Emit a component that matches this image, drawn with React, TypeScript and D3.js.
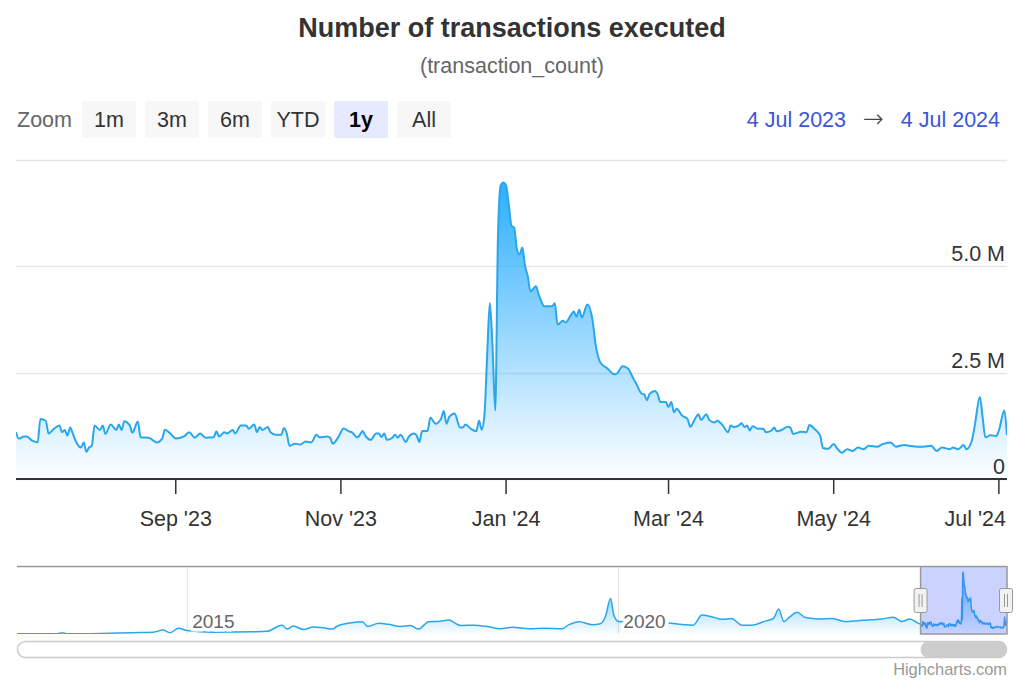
import React from "react";
import * as d3 from "d3";

const chartTitle = "Number of transactions executed";
const chartSubtitle = "(transaction_count)";
const zoomLabel = "Zoom";
const zoomButtons = ["1m", "3m", "6m", "YTD", "1y", "All"];
const selectedButton = "1y";
const rangeFrom = "4 Jul 2023";
const rangeTo = "4 Jul 2024";
const rangeStart = "2023-07-04";
const rangeEnd = "2024-07-04";
const yTickValues = [0, 2.5, 5, 7.5];
const yTickLabels = ["0", "2.5 M", "5.0 M", ""];
const xTickDates = ["2023-09-01", "2023-11-01", "2024-01-01", "2024-03-01", "2024-05-01", "2024-07-01"];
const navTickDates = ["2015-01-01", "2020-01-01"];
const creditText = "Highcharts.com";

// daily transaction count, millions (selected year)
const txData: [string, number][] = [
  ["2023-07-04", 1.10], ["2023-07-05", 0.95], ["2023-07-07", 1.00], ["2023-07-08", 1.00], ["2023-07-10", 0.90],
  ["2023-07-12", 0.86], ["2023-07-13", 1.41], ["2023-07-15", 1.37], ["2023-07-16", 1.07], ["2023-07-18", 1.18],
  ["2023-07-20", 1.26], ["2023-07-21", 1.10], ["2023-07-22", 1.15], ["2023-07-23", 1.02], ["2023-07-24", 1.21],
  ["2023-07-25", 1.06], ["2023-07-26", 0.90], ["2023-07-28", 0.74], ["2023-07-29", 0.86], ["2023-07-30", 0.64],
  ["2023-07-31", 0.74], ["2023-08-01", 0.78], ["2023-08-02", 1.26], ["2023-08-04", 1.15], ["2023-08-05", 1.26],
  ["2023-08-06", 1.06], ["2023-08-08", 1.28], ["2023-08-09", 1.22], ["2023-08-10", 1.15], ["2023-08-11", 1.28],
  ["2023-08-12", 1.15], ["2023-08-13", 1.36], ["2023-08-15", 1.26], ["2023-08-16", 1.09], ["2023-08-18", 1.35],
  ["2023-08-19", 0.98], ["2023-08-22", 0.97], ["2023-08-25", 0.86], ["2023-08-27", 0.95], ["2023-08-28", 1.16],
  ["2023-08-30", 1.07], ["2023-09-01", 0.95], ["2023-09-04", 1.00], ["2023-09-06", 1.10], ["2023-09-08", 0.97],
  ["2023-09-10", 1.07], ["2023-09-12", 0.97], ["2023-09-15", 0.98], ["2023-09-16", 1.12], ["2023-09-17", 1.00],
  ["2023-09-19", 1.10], ["2023-09-20", 1.07], ["2023-09-22", 1.15], ["2023-09-23", 1.07], ["2023-09-25", 1.26],
  ["2023-09-27", 1.26], ["2023-09-28", 1.18], ["2023-09-30", 1.28], ["2023-10-01", 1.10], ["2023-10-02", 1.22],
  ["2023-10-03", 1.15], ["2023-10-05", 1.22], ["2023-10-06", 1.10], ["2023-10-08", 1.04], ["2023-10-10", 1.04],
  ["2023-10-11", 1.20], ["2023-10-12", 1.07], ["2023-10-13", 0.78], ["2023-10-15", 0.83], ["2023-10-17", 0.81],
  ["2023-10-19", 0.88], ["2023-10-21", 0.86], ["2023-10-23", 1.04], ["2023-10-24", 0.98], ["2023-10-27", 1.00],
  ["2023-10-28", 0.97], ["2023-10-29", 0.83], ["2023-10-31", 0.98], ["2023-11-02", 1.19], ["2023-11-04", 1.12],
  ["2023-11-05", 1.10], ["2023-11-07", 0.98], ["2023-11-08", 1.04], ["2023-11-09", 1.13], ["2023-11-10", 1.02],
  ["2023-11-12", 0.92], ["2023-11-14", 1.07], ["2023-11-15", 1.07], ["2023-11-16", 0.99], ["2023-11-17", 1.07],
  ["2023-11-18", 0.92], ["2023-11-20", 0.97], ["2023-11-21", 1.04], ["2023-11-22", 0.97], ["2023-11-23", 1.04],
  ["2023-11-25", 0.87], ["2023-11-26", 0.99], ["2023-11-28", 1.07], ["2023-11-29", 1.02], ["2023-11-30", 0.87],
  ["2023-12-01", 1.13], ["2023-12-03", 1.13], ["2023-12-04", 1.44], ["2023-12-06", 1.30], ["2023-12-08", 1.42],
  ["2023-12-09", 1.60], ["2023-12-10", 1.30], ["2023-12-11", 1.46], ["2023-12-13", 1.54], ["2023-12-15", 1.21],
  ["2023-12-16", 1.21], ["2023-12-17", 1.28], ["2023-12-19", 1.18], ["2023-12-21", 1.12], ["2023-12-22", 1.37],
  ["2023-12-23", 1.16], ["2023-12-24", 1.50], ["2023-12-25", 2.90], ["2023-12-26", 4.14], ["2023-12-27", 3.10],
  ["2023-12-28", 1.61], ["2023-12-29", 5.70], ["2023-12-30", 6.90], ["2023-12-31", 6.97], ["2024-01-01", 6.90],
  ["2024-01-02", 6.45], ["2024-01-03", 5.95], ["2024-01-04", 5.91], ["2024-01-05", 5.40], ["2024-01-06", 5.28],
  ["2024-01-07", 5.44], ["2024-01-08", 5.01], ["2024-01-09", 4.77], ["2024-01-10", 4.41], ["2024-01-12", 4.53],
  ["2024-01-13", 4.35], ["2024-01-14", 4.18], ["2024-01-15", 4.06], ["2024-01-18", 4.06], ["2024-01-19", 4.13],
  ["2024-01-20", 3.63], ["2024-01-22", 3.72], ["2024-01-23", 3.68], ["2024-01-25", 3.86], ["2024-01-26", 3.94],
  ["2024-01-27", 3.82], ["2024-01-28", 3.98], ["2024-01-29", 3.80], ["2024-01-31", 4.10], ["2024-02-02", 3.70],
  ["2024-02-03", 3.19], ["2024-02-05", 2.72], ["2024-02-07", 2.62], ["2024-02-08", 2.56], ["2024-02-10", 2.46],
  ["2024-02-11", 2.48], ["2024-02-13", 2.65], ["2024-02-15", 2.60], ["2024-02-17", 2.36], ["2024-02-18", 2.25],
  ["2024-02-20", 2.01], ["2024-02-21", 1.99], ["2024-02-22", 1.85], ["2024-02-23", 2.00], ["2024-02-25", 2.07],
  ["2024-02-26", 1.99], ["2024-02-27", 1.81], ["2024-02-29", 1.81], ["2024-03-01", 1.69], ["2024-03-02", 1.81],
  ["2024-03-03", 1.57], ["2024-03-04", 1.65], ["2024-03-06", 1.49], ["2024-03-08", 1.41], ["2024-03-09", 1.23],
  ["2024-03-11", 1.44], ["2024-03-12", 1.52], ["2024-03-13", 1.39], ["2024-03-15", 1.52], ["2024-03-16", 1.39],
  ["2024-03-18", 1.33], ["2024-03-19", 1.37], ["2024-03-21", 1.26], ["2024-03-23", 1.10], ["2024-03-24", 1.26],
  ["2024-03-25", 1.22], ["2024-03-27", 1.26], ["2024-03-28", 1.31], ["2024-03-29", 1.22], ["2024-03-30", 1.26],
  ["2024-03-31", 1.14], ["2024-04-01", 1.24], ["2024-04-03", 1.18], ["2024-04-05", 1.18], ["2024-04-06", 1.10],
  ["2024-04-08", 1.14], ["2024-04-09", 1.21], ["2024-04-10", 1.12], ["2024-04-12", 1.16], ["2024-04-14", 1.23],
  ["2024-04-15", 1.21], ["2024-04-16", 1.06], ["2024-04-19", 1.11], ["2024-04-21", 1.10], ["2024-04-22", 1.27],
  ["2024-04-24", 1.17], ["2024-04-26", 1.02], ["2024-04-27", 0.73], ["2024-04-29", 0.71], ["2024-05-01", 0.82],
  ["2024-05-02", 0.74], ["2024-05-04", 0.62], ["2024-05-06", 0.70], ["2024-05-08", 0.66], ["2024-05-10", 0.74],
  ["2024-05-12", 0.70], ["2024-05-14", 0.78], ["2024-05-17", 0.76], ["2024-05-19", 0.82], ["2024-05-22", 0.86],
  ["2024-05-24", 0.76], ["2024-05-27", 0.80], ["2024-05-29", 0.78], ["2024-06-01", 0.76], ["2024-06-03", 0.76],
  ["2024-06-06", 0.78], ["2024-06-08", 0.66], ["2024-06-10", 0.74], ["2024-06-13", 0.70], ["2024-06-14", 0.74],
  ["2024-06-16", 0.70], ["2024-06-18", 0.80], ["2024-06-19", 0.70], ["2024-06-21", 0.90], ["2024-06-22", 1.22],
  ["2024-06-24", 1.93], ["2024-06-25", 1.45], ["2024-06-26", 0.98], ["2024-06-28", 1.03], ["2024-06-30", 1.01],
  ["2024-07-01", 1.14], ["2024-07-03", 1.61], ["2024-07-04", 1.03],
];

// earlier history shown only in the navigator, millions
const historyData: [string, number][] = [
  ["2013-01-10", 0.02], ["2013-07-01", 0.03], ["2013-07-20", 0.15], ["2013-08-08", 0.03], ["2014-01-01", 0.07],
  ["2014-05-15", 0.15], ["2014-08-10", 0.2], ["2014-09-20", 0.45], ["2014-10-20", 0.15], ["2014-11-25", 0.64],
  ["2015-01-01", 0.4], ["2015-04-20", 0.2], ["2015-10-08", 0.25], ["2015-12-05", 0.3], ["2016-02-06", 1.0],
  ["2016-02-28", 0.55], ["2016-03-25", 0.9], ["2016-05-08", 0.5], ["2016-06-17", 0.8], ["2016-08-01", 0.7],
  ["2016-09-06", 0.55], ["2016-09-28", 0.9], ["2016-11-10", 1.2], ["2017-01-12", 1.39], ["2017-02-03", 0.85],
  ["2017-03-22", 1.2], ["2017-05-01", 1.1], ["2017-06-21", 0.85], ["2017-08-04", 0.95], ["2017-09-06", 0.55],
  ["2017-10-20", 1.39], ["2017-12-06", 1.45], ["2018-01-12", 1.57], ["2018-02-17", 1.1], ["2018-03-04", 0.95],
  ["2018-04-28", 1.0], ["2018-06-25", 0.85], ["2018-08-18", 0.6], ["2018-10-08", 0.75], ["2018-12-20", 0.6],
  ["2019-02-24", 0.65], ["2019-05-08", 0.6], ["2019-06-06", 1.05], ["2019-07-20", 1.39], ["2019-09-13", 1.05],
  ["2019-10-16", 1.15], ["2019-11-07", 1.95], ["2019-11-29", 4.0], ["2019-12-13", 2.1], ["2020-01-04", 1.39],
  ["2020-02-06", 1.5], ["2020-04-23", 1.4], ["2020-07-16", 1.3], ["2020-08-14", 1.2], ["2020-11-13", 1.0],
  ["2020-12-20", 2.14], ["2021-01-30", 1.95], ["2021-03-15", 1.65], ["2021-04-24", 1.75], ["2021-06-07", 1.0],
  ["2021-07-20", 1.0], ["2021-09-13", 1.45], ["2021-10-19", 1.75], ["2021-11-10", 2.81], ["2021-12-02", 1.4],
  ["2021-12-28", 1.95], ["2022-01-26", 2.44], ["2022-03-04", 1.85], ["2022-04-28", 1.7], ["2022-06-25", 1.75],
  ["2022-08-18", 1.4], ["2022-10-12", 1.5], ["2022-12-09", 1.6], ["2023-01-22", 1.7], ["2023-03-10", 1.9],
  ["2023-04-16", 1.4], ["2023-05-19", 1.7], ["2023-06-25", 1.2],
];

const parse = d3.timeParse("%Y-%m-%d");
const FONT = "'Liberation Sans', Arial, Helvetica, sans-serif";
const BLUE = "#2caffe";
const LINE = "#2aa6ea";

type P = { date: Date; v: number };

export default function App() {
  const main: P[] = txData.map(([d, v]) => ({ date: parse(d)!, v }));
  const nav: P[] = [...historyData, ...txData].map(([d, v]) => ({ date: parse(d)!, v }));

  const plotL = 16, plotR = 1007, plotT = 160, plotB = 479;
  const x = d3.scaleTime().domain([parse(rangeStart)!, parse(rangeEnd)!]).range([plotL, plotR]);
  const y = d3.scaleLinear().domain([0, 7.5]).range([plotB, plotT]);

  const area = d3.area<P>().x(d => x(d.date)).y0(y(0)).y1(d => y(d.v)).curve(d3.curveMonotoneX);
  const line = d3.line<P>().x(d => x(d.date)).y(d => y(d.v)).curve(d3.curveMonotoneX);

  const navL = 17, navR = 1007, navT = 566, navB = 634;
  const navX = d3.scaleTime().domain([nav[0].date, parse(rangeEnd)!]).range([navL, navR]);
  const navY = d3.scaleLinear().domain([0, (d3.max(nav, d => d.v) || 1) * 1.1]).range([navB, navT]);
  const navArea = d3.area<P>().x(d => navX(d.date)).y0(navB).y1(d => navY(d.v)).curve(d3.curveMonotoneX);
  const navLine = d3.line<P>().x(d => navX(d.date)).y(d => navY(d.v)).curve(d3.curveMonotoneX);
  const selL = navX(parse(rangeStart)!);
  const selR = navX(parse(rangeEnd)!);

  const fmt = d3.timeFormat("%b '%y");
  const labelFs = 21.5;

  const btnX0 = 82, btnStep = 63, btnW = 54, btnY = 101, btnH = 37;

  const handle = (cx: number) => (
    <g key={cx}>
      <rect x={cx - 6.5} y={588.5} width={13} height={24} rx={2} fill="#f2f2f2" stroke="#999" strokeWidth={1} />
      <line x1={cx - 1.5} x2={cx - 1.5} y1={594} y2={607} stroke="#999" strokeWidth={1} />
      <line x1={cx + 1.5} x2={cx + 1.5} y1={594} y2={607} stroke="#999" strokeWidth={1} />
    </g>
  );

  return (
    <svg width={1024} height={683} style={{ position: "absolute", left: 0, top: 0, display: "block", background: "#fff" }} fontFamily={FONT}>
      <defs>
        <linearGradient id="mainGrad" x1="0" y1="0" x2="0" y2="1">
          <stop offset="0" stopColor={BLUE} stopOpacity={1} />
          <stop offset="1" stopColor={BLUE} stopOpacity={0} />
        </linearGradient>
        <linearGradient id="navGrad" x1="0" y1="0" x2="0" y2="1">
          <stop offset="0" stopColor={BLUE} stopOpacity={0.8} />
          <stop offset="1" stopColor={BLUE} stopOpacity={0.02} />
        </linearGradient>
        <clipPath id="plotClip"><rect x={plotL} y={plotT - 40} width={plotR - plotL} height={plotB - plotT + 40} /></clipPath>
        <clipPath id="navClip"><rect x={navL} y={navT} width={navR - navL} height={navB - navT} /></clipPath>
      </defs>
      <rect x={0} y={0} width={1024} height={683} fill="#fff" />

      <text x={512} y={37} textAnchor="middle" fontSize={27} fontWeight="bold" fill="#333">{chartTitle}</text>
      <text x={512} y={73} textAnchor="middle" fontSize={21.5} fill="#666">{chartSubtitle}</text>

      <text x={17} y={127} fontSize={labelFs} fill="#666">{zoomLabel}</text>
      {zoomButtons.map((b, i) => {
        const sel = b === selectedButton;
        const bx = btnX0 + i * btnStep;
        return (
          <g key={b}>
            <rect x={bx} y={btnY} width={btnW} height={btnH} rx={2} fill={sel ? "#e6e9ff" : "#f7f7f7"} />
            <text x={bx + btnW / 2} y={127} textAnchor="middle" fontSize={labelFs} fill={sel ? "#000" : "#333"} fontWeight={sel ? "bold" : "normal"}>{b}</text>
          </g>
        );
      })}
      <text x={846} y={127} textAnchor="end" fontSize={labelFs} fill="#3d55d6">{rangeFrom}</text>
      <text x={873} y={127} textAnchor="middle" fontSize={25} fontFamily="'DejaVu Sans', sans-serif" fontWeight={200} fill="#444">→</text>
      <text x={1000} y={127} textAnchor="end" fontSize={labelFs} fill="#3d55d6">{rangeTo}</text>

      {yTickValues.map(v => (
        <line key={"g" + v} x1={plotL} x2={plotR} y1={Math.round(y(v)) + 0.5} y2={Math.round(y(v)) + 0.5} stroke="#e6e6e6" strokeWidth={1.5} />
      ))}

      <g clipPath="url(#plotClip)">
        <path d={area(main) || ""} fill="url(#mainGrad)" />
        <path d={line(main) || ""} fill="none" stroke={LINE} strokeWidth={2} strokeLinejoin="round" />
      </g>

      {yTickValues.map((v, i) => yTickLabels[i] ? (
        <text key={"yl" + v} x={1005} y={y(v) - 5} textAnchor="end" fontSize={labelFs} fill="#333">{yTickLabels[i]}</text>
      ) : null)}

      <line x1={plotL} x2={plotR} y1={plotB} y2={plotB} stroke="#333" strokeWidth={2} />
      {xTickDates.map(ds => {
        const d = parse(ds)!;
        const px = x(d);
        const label = fmt(d);
        const approxW = label.length * labelFs * 0.5;
        const overflow = px + approxW / 2 > 1006;
        return (
          <g key={ds}>
            <line x1={px} x2={px} y1={plotB} y2={plotB + 15} stroke="#333" strokeWidth={1.5} />
            <text x={overflow ? 1006 : px} y={526} textAnchor={overflow ? "end" : "middle"} fontSize={labelFs} fill="#333">{label}</text>
          </g>
        );
      })}

      {/* navigator */}
      {navTickDates.map(ds => {
        const px = navX(parse(ds)!);
        return <line key={"ng" + ds} x1={px} x2={px} y1={navT} y2={navB} stroke="#e0e0e0" strokeWidth={1} />;
      })}
      <g clipPath="url(#navClip)">
        <path d={navArea(nav) || ""} fill="url(#navGrad)" />
        <path d={navLine(nav) || ""} fill="none" stroke={LINE} strokeWidth={1.5} />
      </g>
      {navTickDates.map(ds => {
        const d = parse(ds)!;
        const px = navX(d);
        return (
          <text key={"nl" + ds} x={px + 5} y={628} fontSize={19} fill="#666" stroke="#fff" strokeWidth={7} strokeLinejoin="round" style={{ paintOrder: "stroke" }}>{d3.timeFormat("%Y")(d)}</text>
        );
      })}
      <rect x={selL} y={navT} width={selR - selL} height={navB - navT} fill="rgba(80,110,255,0.3)" />
      <line x1={navL} x2={navR} y1={navT + 0.5} y2={navT + 0.5} stroke="#999" strokeWidth={1.5} />
      <path d={`M${selL},${navT} V${navB} H${selR} V${navT}`} fill="none" stroke="#999" strokeWidth={1.5} />
      {handle(selL)}
      {handle(selR - 1)}

      {/* scrollbar */}
      <rect x={navL + 0.5} y={641.5} width={navR - navL - 1} height={16} rx={8} fill="#fff" stroke="#ccc" strokeWidth={1.5} />
      <rect x={selL} y={641} width={selR - selL} height={17} rx={8.5} fill="#ccc" />

      <text x={1007} y={675} textAnchor="end" fontSize={16.4} fill="#999">{creditText}</text>
    </svg>
  );
}
